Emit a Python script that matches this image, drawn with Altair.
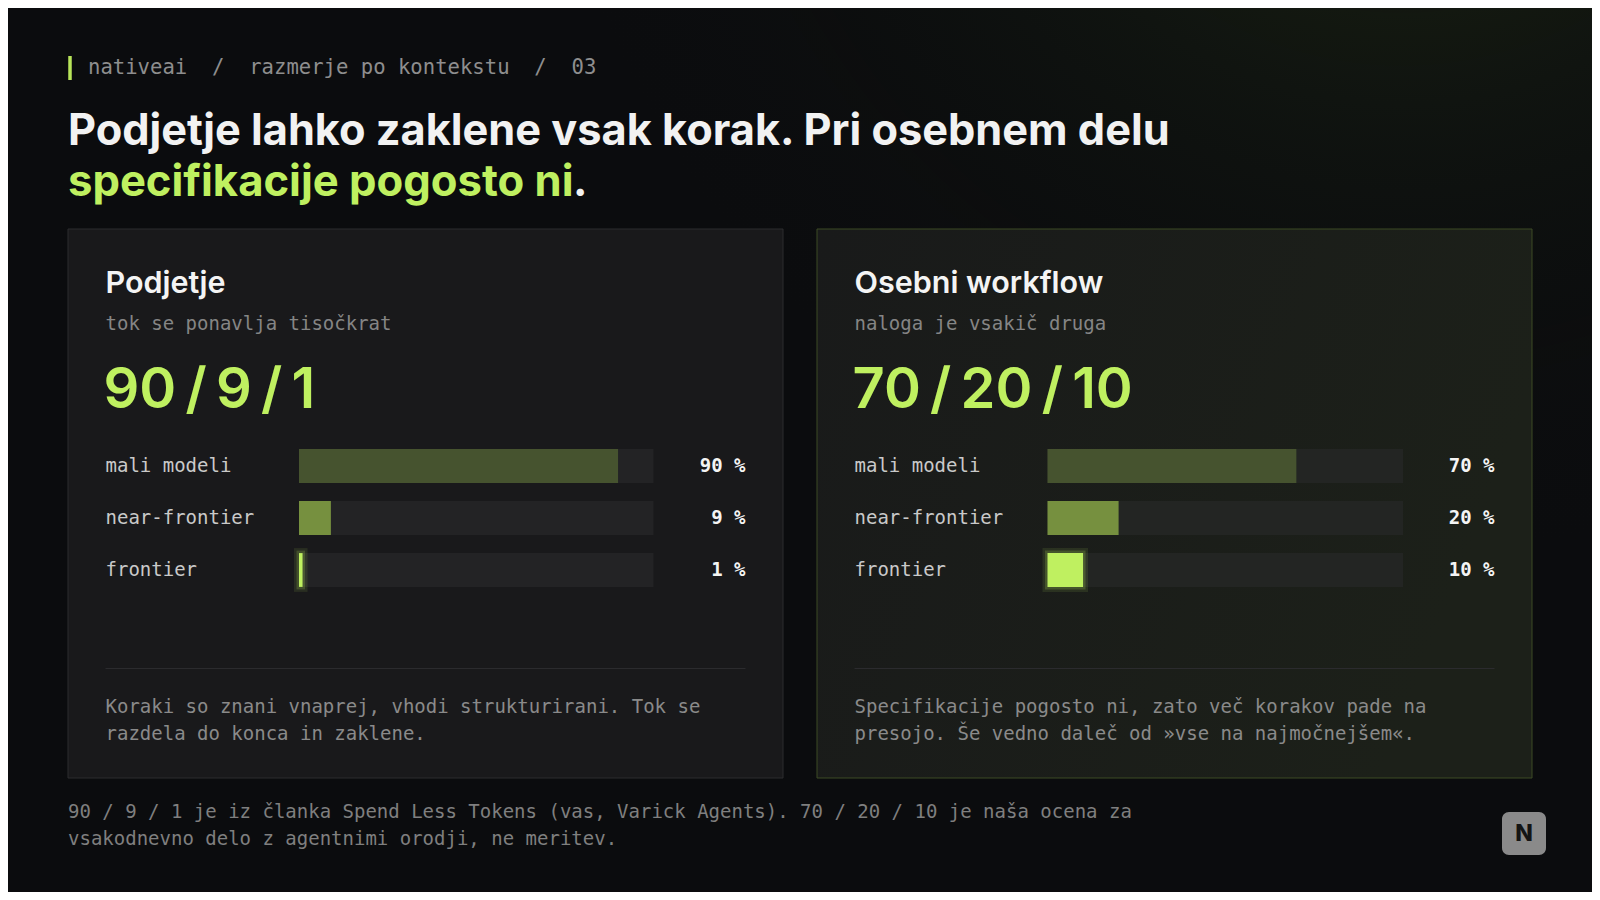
import altair as alt
import pandas as pd

# ---------------- data ----------------
categories = ["mali modeli", "near-frontier", "frontier"]
enterprise_values = [90, 9, 1]
personal_values = [70, 20, 10]
bar_colors = ["#46532f", "#76903f", "#bff060"]

NB = "\u00a0"
header_text = f"nativeai{NB}{NB}/{NB}{NB}razmerje po kontekstu{NB}{NB}/{NB}{NB}03"
title_line1 = "Podjetje lahko zaklene vsak korak. Pri osebnem delu"
title_line2_green = "specifikacije pogosto ni"
title_line2_end = "."

panel_titles = ["Podjetje", "Osebni workflow"]
panel_subtitles = ["tok se ponavlja tisočkrat", "naloga je vsakič druga"]
panel_notes = [
    ["Koraki so znani vnaprej, vhodi strukturirani. Tok se", "razdela do konca in zaklene."],
    ["Specifikacije pogosto ni, zato več korakov pade na", "presojo. Še vedno daleč od »vse na najmočnejšem«."],
]
footer_lines = [
    "90 / 9 / 1 je iz članka Spend Less Tokens (vas, Varick Agents). 70 / 20 / 10 je naša ocena za",
    "vsakodnevno delo z agentnimi orodji, ne meritev.",
]

W, H = 1584, 884
MONO = "DejaVu Sans Mono"
SANS = "Inter"
GREEN = "#bff060"


def one():
    return pd.DataFrame({"k": [0]})


def txt(text, x, y, size, color, font=MONO, weight="normal", align="left", baseline="middle"):
    return alt.Chart(pd.DataFrame({"t": [text]})).mark_text(
        font=font, fontSize=size, fontWeight=weight, color=color,
        align=align, baseline=baseline,
    ).encode(text="t:N", x=alt.value(x), y=alt.value(y))


def box(x, x2, y, y2, **kw):
    return alt.Chart(one()).mark_rect(**kw).encode(
        x=alt.value(x), x2=alt.value(x2), y=alt.value(y), y2=alt.value(y2)
    )


layers = []

# background glow (top right)
layers.append(box(0, W, 0, H, fill=alt.RadialGradient(
    gradient="radial", x1=0.88, y1=0.02, x2=0.88, y2=0.02, r1=0, r2=0.55,
    stops=[alt.GradientStop(color="rgba(110,150,50,0.22)", offset=0),
           alt.GradientStop(color="rgba(60,90,30,0.09)", offset=0.5),
           alt.GradientStop(color="rgba(11,12,14,0)", offset=1)])))

# header
layers.append(alt.Chart(one()).mark_rule(color="#b8e55a", strokeWidth=3.5).encode(
    x=alt.value(62), y=alt.value(48), y2=alt.value(72)))
layers.append(txt(header_text, 80, 60, 20.6, "#8e8e8e"))

# title
layers.append(txt(title_line1, 60, 137, 43.3, "#f2f2f2", font=SANS, weight=700, baseline="alphabetic"))
layers.append(txt(title_line2_green, 60, 188, 43.6, GREEN, font=SANS, weight=700, baseline="alphabetic"))
layers.append(txt(title_line2_end, 565, 188, 43.3, "#f2f2f2", font=SANS, weight=700, baseline="alphabetic"))

# panels
panel_x = [(60, 775), (809, 1524)]
track_x = [(291, 645.5), (1039.5, 1395)]
label_x = [97.5, 846.5]
value_x = [737.5, 1486.5]
panel_values = [enterprise_values, personal_values]
panel_fill = [
    "#19191b",
    alt.LinearGradient(gradient="linear", x1=0, y1=0, x2=1, y2=0.3,
                       stops=[alt.GradientStop(color="#191a1a", offset=0),
                              alt.GradientStop(color="#1c2019", offset=1)]),
]
panel_stroke = ["#2c2c2f", "#3d4a25"]
track_color = ["#232325", "#232523"]
TS = "\u2009"

for i in range(2):
    px0, px1 = panel_x[i]
    layers.append(box(px0, px1, 221, 770, fill=panel_fill[i], stroke=panel_stroke[i], strokeWidth=1))
    lx = label_x[i]
    layers.append(txt(panel_titles[i], lx, 276, 30.5, "#f4f4f4", font=SANS, weight=600))
    layers.append(txt(panel_subtitles[i], lx, 315.5, 19, "#858585"))
    vals = panel_values[i]
    layers.append(txt(f"{TS}/{TS}".join(str(v) for v in vals), lx - 2, 400, 56, GREEN,
                      font=SANS, weight=600, baseline="alphabetic"))

    df = pd.DataFrame({"cat": categories, "value": vals, "color": bar_colors,
                       "full": [100] * 3,
                       "label": [f"{v} %" for v in vals]})
    xs = alt.Scale(domain=[0, 100], range=list(track_x[i]))
    ys = alt.Scale(domain=categories, range=[432, 588], paddingInner=0.35, paddingOuter=0.175)
    base = alt.Chart(df)
    track = base.mark_bar(color=track_color[i]).encode(
        x=alt.X("full:Q", scale=xs, axis=None),
        y=alt.Y("cat:N", scale=ys, axis=None))
    glow1 = base.transform_filter(alt.datum.cat == "frontier").mark_bar(
        fillOpacity=0, stroke=GREEN, strokeWidth=10, strokeOpacity=0.10).encode(
        x=alt.X("value:Q", scale=xs, axis=None),
        y=alt.Y("cat:N", scale=ys, axis=None))
    glow2 = base.transform_filter(alt.datum.cat == "frontier").mark_bar(
        fillOpacity=0, stroke=GREEN, strokeWidth=5, strokeOpacity=0.18).encode(
        x=alt.X("value:Q", scale=xs, axis=None),
        y=alt.Y("cat:N", scale=ys, axis=None))
    bars = base.mark_bar().encode(
        x=alt.X("value:Q", scale=xs, axis=None),
        y=alt.Y("cat:N", scale=ys, axis=None),
        color=alt.Color("color:N", scale=None))
    labels = base.mark_text(font=MONO, fontSize=19, color="#c9c9c9", align="left",
                            baseline="middle").encode(
        x=alt.value(lx), y=alt.Y("cat:N", scale=ys, axis=None), text="cat:N")
    vlabels = base.mark_text(font=MONO, fontSize=19, fontWeight="bold", color="#f4f4f4",
                             align="right", baseline="middle").encode(
        x=alt.value(value_x[i]), y=alt.Y("cat:N", scale=ys, axis=None), text="label:N")
    layers.append(alt.layer(track, glow1, glow2, bars, labels, vlabels))

    # separator + note
    layers.append(alt.Chart(one()).mark_rule(color="#2b2b2e", strokeWidth=1).encode(
        x=alt.value(lx), x2=alt.value(value_x[i]), y=alt.value(660.5)))
    layers.append(txt(panel_notes[i][0], lx, 698.5, 19, "#8a8a8a"))
    layers.append(txt(panel_notes[i][1], lx, 725.5, 19, "#8a8a8a"))

# footer
layers.append(txt(footer_lines[0], 60, 803.5, 19, "#7f7f7f"))
layers.append(txt(footer_lines[1], 60, 830.5, 19, "#7f7f7f"))

# logo
layers.append(box(1494, 1538, 804, 847, fill="#8a8a8a", cornerRadius=7))
layers.append(txt("N", 1516, 826, 23, "#141414", font=SANS, weight=800, align="center"))

chart = alt.layer(*layers).resolve_scale(x="independent", y="independent").properties(
    width=W, height=H,
    autosize=alt.AutoSizeParams(type="fit", contains="padding"),
    padding=0,
).configure(background="#0b0c0e").configure_view(stroke=None)

chart.save("out.html", embed_options={"renderer": "svg", "actions": False})
